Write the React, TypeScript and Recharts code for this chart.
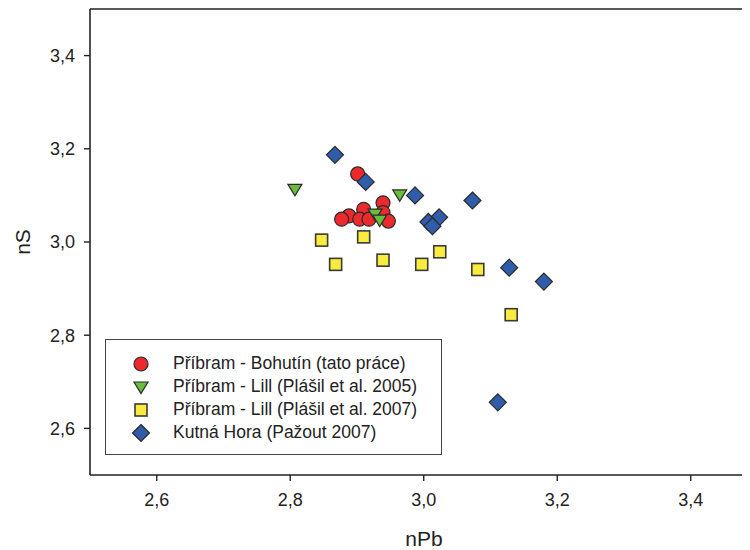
import React from 'react';
import { ScatterChart, Scatter, XAxis, YAxis, ReferenceLine } from 'recharts';

const xTicks = [2.6, 2.8, 3.0, 3.2, 3.4];
const yTicks = [2.6, 2.8, 3.0, 3.2, 3.4];

const bohutinX = [2.901, 2.939, 2.910, 2.888, 2.877, 2.904, 2.918, 2.939, 2.947];
const bohutinY = [3.146, 3.084, 3.070, 3.056, 3.049, 3.049, 3.049, 3.063, 3.045];

const lill2005X = [2.807, 2.964, 2.927, 2.934];
const lill2005Y = [3.113, 3.101, 3.060, 3.047];

const lill2007X = [2.847, 2.910, 2.868, 2.939, 2.997, 3.024, 3.081, 3.131];
const lill2007Y = [3.004, 3.011, 2.952, 2.961, 2.952, 2.979, 2.941, 2.844];

const kutnaX = [2.867, 2.913, 2.987, 3.073, 3.023, 3.007, 3.013, 3.128, 3.180, 3.111];
const kutnaY = [3.187, 3.129, 3.100, 3.089, 3.053, 3.043, 3.034, 2.945, 2.915, 2.656];

const seriesNames = [
  'Příbram - Bohutín (tato práce)',
  'Příbram - Lill (Plášil et al. 2005)',
  'Příbram - Lill (Plášil et al. 2007)',
  'Kutná Hora (Pažout 2007)',
];

const toPoints = (xs: number[], ys: number[]) => xs.map((x, i) => ({ x, y: ys[i] }));

const RED = '#ec2a2e';
const GREEN = '#69bd3c';
const YELLOW = '#f9ec3f';
const BLUE = '#2f5da9';
const STROKE = '#2a2a2a';
const FONT = '"Liberation Sans", Arial, sans-serif';

const CircleShape = (p: any) => (
  <circle cx={p.cx} cy={p.cy} r={7} fill={RED} stroke={STROKE} strokeWidth={1.2} />
);
const TriShape = (p: any) => (
  <path
    d={`M${p.cx - 7},${p.cy - 5} L${p.cx + 7},${p.cy - 5} L${p.cx},${p.cy + 6.5} Z`}
    fill={GREEN}
    stroke={STROKE}
    strokeWidth={1.2}
  />
);
const SquareShape = (p: any) => (
  <rect x={p.cx - 6} y={p.cy - 6} width={12} height={12} fill={YELLOW} stroke="#3a3a3a" strokeWidth={1.6} />
);
const DiamondShape = (p: any) => (
  <path
    d={`M${p.cx},${p.cy - 8.5} L${p.cx + 8.5},${p.cy} L${p.cx},${p.cy + 8.5} L${p.cx - 8.5},${p.cy} Z`}
    fill={BLUE}
    stroke={STROKE}
    strokeWidth={1.2}
  />
);

const legendIcons = [
  <circle cx={10} cy={10} r={7} fill={RED} stroke={STROKE} strokeWidth={1.2} />,
  <path d="M3,5 L17,5 L10,16.5 Z" fill={GREEN} stroke={STROKE} strokeWidth={1.2} />,
  <rect x={4} y={4} width={12} height={12} fill={YELLOW} stroke="#3a3a3a" strokeWidth={1.6} />,
  <path d="M10,1.5 L18.5,10 L10,18.5 L1.5,10 Z" fill={BLUE} stroke={STROKE} strokeWidth={1.2} />,
];

const LegendBox = () => (
  <div
    style={{
      position: 'absolute',
      left: 97,
      top: 331,
      width: 337,
      height: 116,
      border: '1px solid #444',
      background: '#fff',
      boxSizing: 'border-box',
      paddingTop: 12,
      fontFamily: FONT,
      fontSize: 17.5,
      color: '#222',
    }}
  >
    {seriesNames.map((n, i) => (
      <div key={n} style={{ display: 'flex', alignItems: 'center', height: 23 }}>
        <svg width={20} height={20} style={{ marginLeft: 25, marginRight: 22, flexShrink: 0 }}>
          {legendIcons[i]}
        </svg>
        <span style={{ whiteSpace: 'nowrap' }}>{n}</span>
      </div>
    ))}
  </div>
);

const fmt = (v: number) => v.toFixed(1).replace('.', ',');

const YLabel = (props: any) => {
  const vb = props.viewBox || { x: 0, y: 0, width: 0, height: 0 };
  const x = vb.x + 14;
  const y = vb.y + vb.height / 2;
  return (
    <text x={x} y={y} transform={`rotate(-90 ${x} ${y})`} textAnchor="middle" dominantBaseline="central"
      fontFamily={FONT} fontSize={21} fill="#222">
      nS
    </text>
  );
};

export default function App() {
  return (
    <div style={{ width: 742, height: 542, position: 'relative' }}>
      <ScatterChart width={742} height={542} margin={{ top: 1, right: 0, bottom: 0, left: 0 }}>
        <XAxis
          type="number"
          dataKey="x"
          domain={[2.5, 3.4888]}
          allowDataOverflow
          ticks={xTicks}
          tickFormatter={fmt}
          height={75}
          tickSize={6}
          tickMargin={12}
          axisLine={{ stroke: '#222', strokeWidth: 1.6 }}
          tickLine={{ stroke: '#222', strokeWidth: 1.4 }}
          tick={{ fontFamily: FONT, fontSize: 18, fill: '#222' }}
          label={{ value: 'nPb', position: 'insideBottom', offset: 4, dx: 4, fontFamily: FONT, fontSize: 21, fill: '#222' }}
        />
        <YAxis
          type="number"
          dataKey="y"
          domain={[2.5, 3.5]}
          allowDataOverflow
          ticks={yTicks}
          tickFormatter={fmt}
          width={82}
          tickSize={6}
          tickMargin={9}
          axisLine={{ stroke: '#222', strokeWidth: 1.6 }}
          tickLine={{ stroke: '#222', strokeWidth: 1.4 }}
          tick={{ fontFamily: FONT, fontSize: 18, fill: '#222' }}
          label={<YLabel />}
        />
        <ReferenceLine y={3.5} stroke="#222" strokeWidth={1.6} ifOverflow="visible" />
        <Scatter name={seriesNames[0]} data={toPoints(bohutinX, bohutinY)} shape={CircleShape} isAnimationActive={false} />
        <Scatter name={seriesNames[1]} data={toPoints(lill2005X, lill2005Y)} shape={TriShape} isAnimationActive={false} />
        <Scatter name={seriesNames[2]} data={toPoints(lill2007X, lill2007Y)} shape={SquareShape} isAnimationActive={false} />
        <Scatter name={seriesNames[3]} data={toPoints(kutnaX, kutnaY)} shape={DiamondShape} isAnimationActive={false} />
      </ScatterChart>
      <LegendBox />
    </div>
  );
}
